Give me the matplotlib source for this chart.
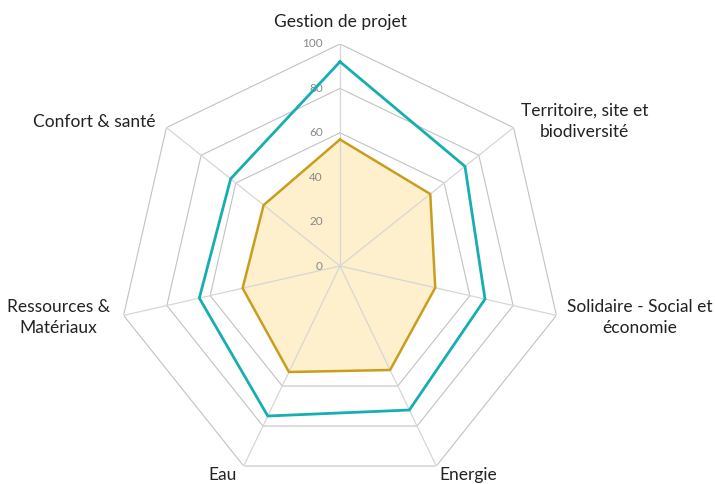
import numpy as np
import matplotlib
matplotlib.use("Agg")
import matplotlib.pyplot as plt

categories = ["Gestion de projet", "Territoire, site et\nbiodiversité",
              "Solidaire - Social et\néconomie", "Energie", "Eau",
              "Ressources &\nMatériaux", "Confort & santé"]
series_teal = [92, 72, 67, 72, 75, 65, 63]
series_gold = [57, 52, 44, 52, 53, 45, 44]
tick_values = [0, 20, 40, 60, 80, 100]
# label offsets from axis tip (pixels)
label_offsets = [(0, 22), (71, 6), (83, -2), (32, -9), (-21, -9), (-65, -2), (-72, 6)]

TEAL = "#16AEB1"
GOLD = "#C99D1E"
FILL = "#FEF0CD"
RING = "#c2c2c2"
SPOKE = "#d6d6d6"

W, H = 715, 484
fig = plt.figure(figsize=(W / 100, H / 100), dpi=100)
cx, cy, R = 340, 266, 222
ax = fig.add_axes([(cx - R) / W, (H - cy - R) / H, 2 * R / W, 2 * R / H], projection="polar")
ax.set_theta_zero_location("N")
ax.set_theta_direction(-1)
ax.set_ylim(0, 100)
ax.grid(False)
ax.set_xticks([])
ax.set_yticks([])
ax.spines["polar"].set_visible(False)
ax.patch.set_alpha(0)

n = len(categories)
theta = np.arange(n) * 2 * np.pi / n
theta_c = np.append(theta, theta[0])

def closed(v):
    return np.append(v, v[0])

# rings
for t in tick_values[1:]:
    ax.plot(theta_c, [t] * (n + 1), color=RING, lw=0.8, zorder=1)

# gold fill
ax.fill(theta_c, closed(series_gold), color=FILL, zorder=2, lw=0)

# spokes
for th in theta:
    ax.plot([th, th], [0, 100], color=SPOKE, lw=0.9, zorder=3)

ax.plot(theta_c, closed(series_gold), color=GOLD, lw=1.8, zorder=4)
ax.plot(theta_c, closed(series_teal), color=TEAL, lw=2.0, zorder=5)

font = "Lato"
for th, lab, (dx, dy) in zip(theta, categories, label_offsets):
    ax.annotate(lab, xy=(th, 100), xytext=(dx, dy), textcoords="offset pixels",
                ha="center", va="center", multialignment="center",
                fontsize=12.5, family=font, color="#222222",
                linespacing=1.4, annotation_clip=False)

for t in tick_values:
    ax.annotate(str(t), xy=(0, t), xytext=(-17, 0), textcoords="offset pixels",
                ha="right", va="center", fontsize=8.5, family=font, color="#888888",
                annotation_clip=False)

fig.savefig("out.png", dpi=100)
